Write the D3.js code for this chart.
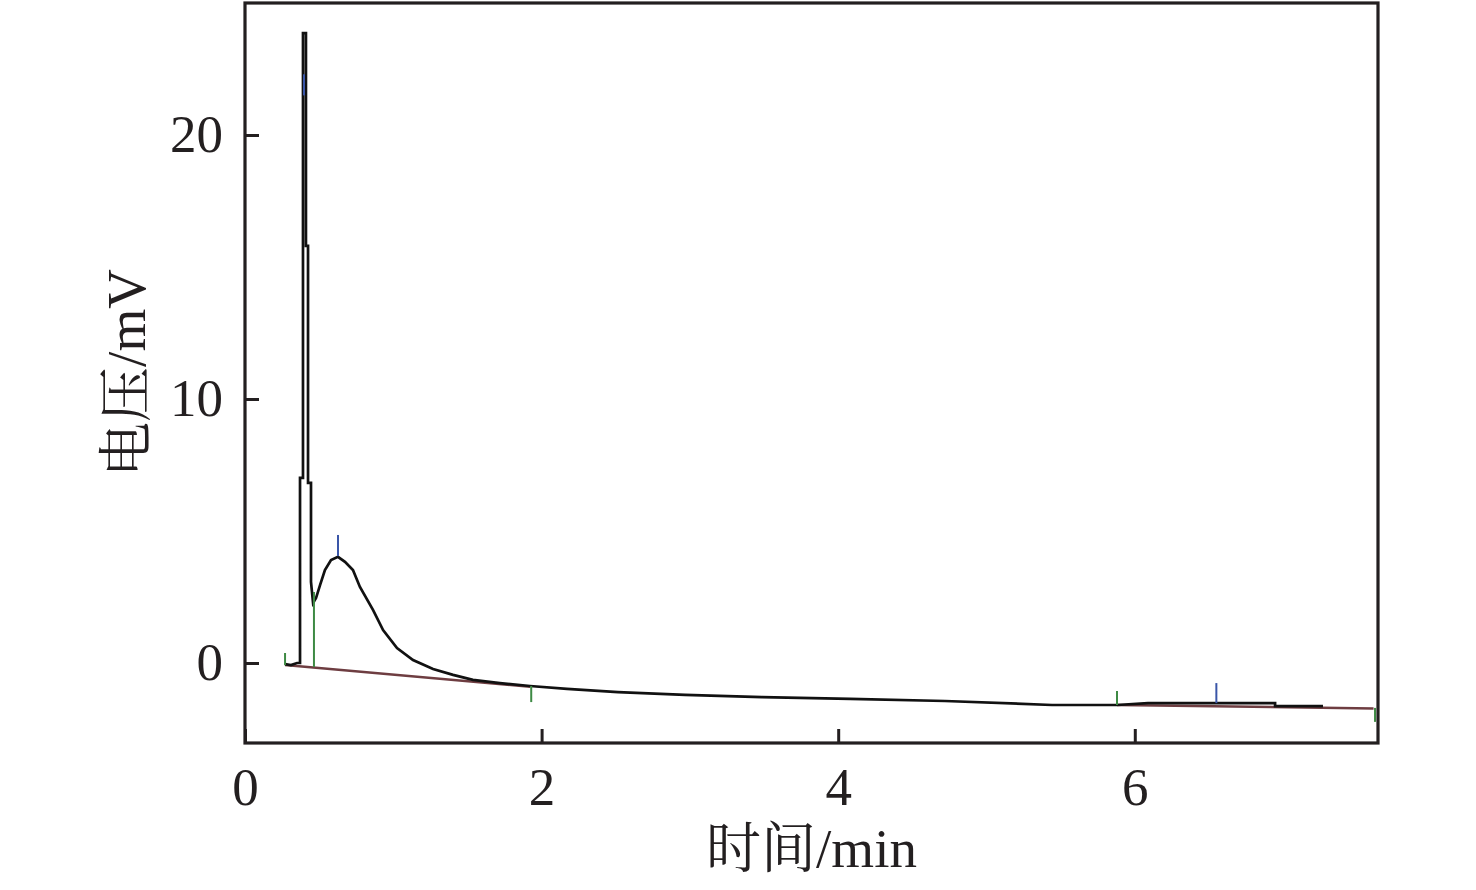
<!DOCTYPE html>
<html>
<head>
<meta charset="utf-8">
<script src="https://cdn.jsdelivr.net/npm/d3@7"></script>
<style>
  html, body { margin: 0; padding: 0; background: #fff; }
  #chart { width: 1476px; height: 890px; }
</style>
</head>
<body>
<div id="chart"></div>
<script>
// chromatogram trace (time in min, signal in mV)
const traceTime = [0.270, 0.310, 0.351, 0.371, 0.371, 0.391, 0.391, 0.411, 0.411, 0.425, 0.425, 0.445, 0.445,
  0.459, 0.479, 0.506, 0.539, 0.580, 0.627, 0.674, 0.728, 0.775, 0.863, 0.931, 1.025, 1.133, 1.268, 1.403,
  1.537, 1.719, 1.922, 2.171, 2.515, 2.967, 3.486, 4.080, 4.720, 5.442, 5.880, 6.089, 6.946, 6.946, 7.269];
const traceSignal = [-0.04, -0.08, 0.00, 0.00, 7.01, 7.01, 23.86, 23.86, 15.80, 15.80, 6.82, 6.82, 3.07,
  2.27, 2.46, 2.95, 3.52, 3.90, 4.02, 3.83, 3.52, 2.88, 2.01, 1.25, 0.57, 0.11, -0.23, -0.45,
  -0.64, -0.76, -0.87, -0.98, -1.10, -1.21, -1.29, -1.36, -1.44, -1.59, -1.59, -1.52, -1.52, -1.63, -1.63];

// integration baselines
const baselines = [
  { t: [0.270, 1.922], v: [-0.08, -0.90] },
  { t: [5.880, 7.610], v: [-1.59, -1.72] }
];

// peak start/end markers (green) and apex markers (blue)
const startEndMarks = [
  { t: 0.270, v0: 0.38, v1: -0.08 },
  { t: 0.465, v0: 2.69, v1: -0.15 },
  { t: 1.930, v0: -0.87, v1: -1.48 },
  { t: 5.880, v0: -1.06, v1: -1.59 },
  { t: 7.620, v0: -1.70, v1: -2.23 }
];
const apexMarks = [
  { t: 0.398, v0: 22.3, v1: 21.5 },
  { t: 0.627, v0: 4.85, v1: 4.05 },
  { t: 6.550, v0: -0.76, v1: -1.52 }
];

const xTicks = [0, 2, 4, 6];
const yTicks = [0, 10, 20];
const xTitle = "时间/min";
const yTitle = "电压/mV";

const W = 1476, H = 890;
const margin = { top: 3, right: 98, bottom: 147, left: 245 };
const width = W - margin.left - margin.right;
const height = H - margin.top - margin.bottom;
const font = "'Liberation Serif', 'Noto Serif CJK SC', 'Noto Sans CJK SC', serif";

const svg = d3.select("#chart").append("svg")
  .attr("width", W).attr("height", H)
  .append("g")
  .attr("transform", `translate(${margin.left},${margin.top})`);

const x = d3.scaleLinear().domain([0, 7.64]).range([0, width]);
const y = d3.scaleLinear().domain([-3.03, 25.0]).range([height, 0]);

// axes with inward ticks
const xAxis = svg.append("g")
  .attr("transform", `translate(0,${height})`)
  .call(d3.axisBottom(x).tickValues(xTicks).tickSize(-14).tickPadding(24).tickFormat(d3.format("d")));
const yAxis = svg.append("g")
  .call(d3.axisLeft(y).tickValues(yTicks).tickSize(-14).tickPadding(22).tickFormat(d3.format("d")));

[xAxis, yAxis].forEach(a => {
  a.select(".domain").remove();
  a.selectAll("line").attr("stroke", "#231f20").attr("stroke-width", 3);
  a.selectAll("text").attr("fill", "#231f20").style("font-family", font).style("font-size", "53px");
});

// baselines
const line = d3.line().x(d => x(d[0])).y(d => y(d[1]));
svg.selectAll("path.baseline")
  .data(baselines)
  .enter().append("path")
  .attr("class", "baseline")
  .attr("d", d => line(d.t.map((t, i) => [t, d.v[i]])))
  .attr("fill", "none")
  .attr("stroke", "#6e3d41")
  .attr("stroke-width", 2.5);

// trace
svg.append("path")
  .attr("d", line(traceTime.map((t, i) => [t, traceSignal[i]])))
  .attr("fill", "none")
  .attr("stroke", "#111")
  .attr("stroke-width", 2.7)
  .attr("stroke-linejoin", "miter");

// markers
svg.selectAll("line.se")
  .data(startEndMarks)
  .enter().append("line")
  .attr("class", "se")
  .attr("x1", d => x(d.t)).attr("x2", d => x(d.t))
  .attr("y1", d => y(d.v0)).attr("y2", d => y(d.v1))
  .attr("stroke", "#3e8a44").attr("stroke-width", 2);

svg.selectAll("line.apex")
  .data(apexMarks)
  .enter().append("line")
  .attr("class", "apex")
  .attr("x1", d => x(d.t)).attr("x2", d => x(d.t))
  .attr("y1", d => y(d.v0)).attr("y2", d => y(d.v1))
  .attr("stroke", "#3a56a8").attr("stroke-width", 2);

// frame
svg.append("rect")
  .attr("width", width).attr("height", height)
  .attr("fill", "none")
  .attr("stroke", "#231f20")
  .attr("stroke-width", 3.2);

// axis titles
svg.append("text")
  .attr("x", width / 2).attr("y", height + 124)
  .attr("text-anchor", "middle")
  .style("font-family", font).style("font-size", "55px").attr("fill", "#231f20")
  .text(xTitle);

svg.append("text")
  .attr("transform", `translate(${-100},${height / 2}) rotate(-90)`)
  .attr("text-anchor", "middle")
  .style("font-family", font).style("font-size", "55px").attr("fill", "#231f20")
  .text(yTitle);
</script>
</body>
</html>
